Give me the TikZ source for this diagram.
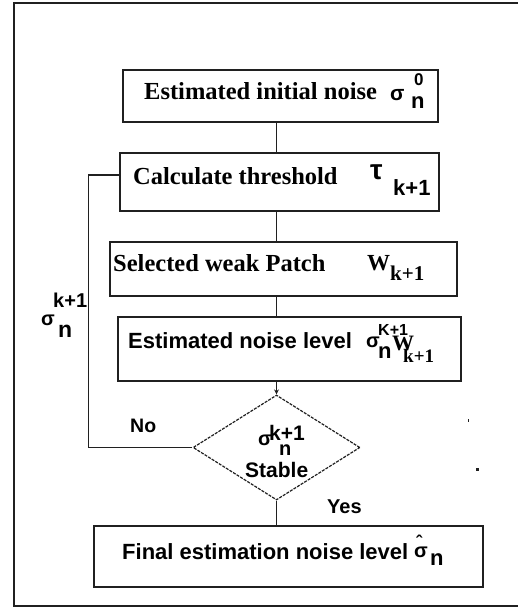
\documentclass[tikz,border=0pt]{standalone}
\usepackage{fontspec}
\setmainfont{Liberation Serif}
\newfontfamily\sansf{Liberation Sans}
\usetikzlibrary{shapes.geometric,arrows.meta}
\definecolor{linec}{HTML}{202020}
\newcommand\fsz[1]{\fontsize{#1}{#1}\selectfont}
\tikzset{
  boxn/.style={draw=linec,line width=2.1pt,inner sep=0pt,rectangle},
  lbl/.style={anchor=base west,inner sep=0pt},
  serb/.style={lbl,font=\bfseries\fsz{#1}},
  sanb/.style={lbl,font=\sansf\bfseries\fsz{#1}},
  conn/.style={draw=linec,line width=1.8pt},
}
\begin{document}
\begin{tikzpicture}[x=1pt,y=-1pt]
\useasboundingbox (0,0) rectangle (518,608);
% outer frame (right side cut off)
\draw[linec,line width=2.3pt] (520,3) -- (14,3) -- (14,606) -- (520,606);
% boxes
\node[boxn,minimum width=315pt,minimum height=52pt] (b1) at (280.5,96) {};
\node[boxn,minimum width=319pt,minimum height=58pt] (b2) at (279.5,182) {};
\node[boxn,minimum width=347pt,minimum height=54pt] (b3) at (283.5,269) {};
\node[boxn,minimum width=343pt,minimum height=64pt] (b4) at (289.5,349) {};
\node[diamond,draw=linec,line width=1.2pt,dash pattern=on 3pt off 1.2pt,inner sep=0pt,
      minimum width=167pt,minimum height=105pt] (dia) at (276.5,447.5) {};
\node[boxn,minimum width=389pt,minimum height=61pt] (b5) at (288.5,556.5) {};
% connectors
\draw[conn] (b1.south -| dia.north) -- (b2.north -| dia.north);
\draw[conn] (b2.south -| dia.north) -- (b3.north -| dia.north);
\draw[conn] (b3.south -| dia.north) -- (b4.north -| dia.north);
\draw[conn,-{Stealth[length=5pt,width=5pt]}] (b4.south -| dia.north) -- (dia.north);
\draw[conn] (dia.south) -- (b5.north -| dia.south);
\draw[conn] (dia.west) -- ++(-104,0) |- ([yshift=7pt]b2.west);
% box 1 text
\node[serb=24.5] (t1) at (144,99) {Estimated initial noise};
\node[sanb=21] (t1s) at (390,100) {σ};
\node[sanb=22] (t1n) at (411,108) {n};
\node[sanb=17] (t1z) at (414,85) {0};
% box 2 text
\node[sanb=28] (t2t) at (370,179) {τ};
\node[serb=24.5] (t2) at (133,184) {Calculate threshold};
\node[sanb=22] (t2k) at (393,195) {k+1};
% box 3 text
\node[serb=24.5] (t3) at (113,271) {Selected weak Patch};
\node[serb=23] (t3w) at (367,270) {W};
\node[serb=21] (t3k) at (390,280) {k+1};
% box 4 text
\node[sanb=22] (t4) at (128,348) {Estimated noise level};
\node[sanb=20] (t4s) at (366,347) {σ};
\node[sanb=22] (t4n) at (378,358) {n};
\node[sanb=16] (t4K) at (378,335) {K+1};
\node[serb=22] (t4w) at (392,350) {W};
\node[serb=19] (t4k) at (403,362) {k+1};
% diamond text
\node[sanb=20] (ds) at (258,445) {σ};
\node[sanb=21] (dk) at (269,440) {k+1};
\node[sanb=20] (dn) at (279,455) {n};
\node[sanb=21] (dst) at (245,477) {Stable};
% branch labels
\node[sanb=19.5] (no) at (130,432) {No};
\node[sanb=20] (yes) at (327,513) {Yes};
% loop label
\node[sanb=20] (lk) at (53,307) {k+1};
\node[sanb=20] (ls) at (41,325) {σ};
\node[sanb=23] (ln) at (58,337) {n};
% final box text
\node[sanb=22] (t5) at (122,559) {Final estimation noise level};
\node[sanb=18] (t5h) at (416,548) {ˆ};
\node[sanb=20] (t5s) at (414,557) {σ};
\node[sanb=22] (t5n) at (430,565) {n};
% stray dots
\fill[linec] (467.5,418.5) rectangle (469,422);
\fill[linec] (476,468) rectangle (478.5,470.5);
\end{tikzpicture}
\end{document}
